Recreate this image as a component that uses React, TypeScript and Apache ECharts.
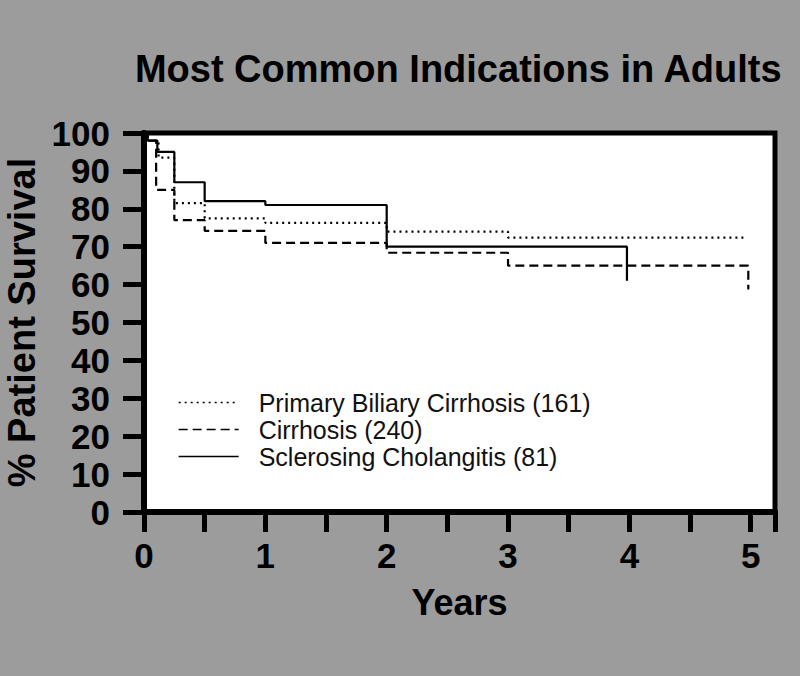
import React, { useEffect, useRef } from "react";
import * as echarts from "echarts";

const titleText = "Most Common Indications in Adults";
const seriesNames = [
  "Primary Biliary Cirrhosis (161)",
  "Cirrhosis (240)",
  "Sclerosing Cholangitis (81)",
];
// Kaplan-Meier step points [years, % survival]
const pbcTimes = [0, 0.03, 0.12, 0.25, 0.5, 1.0, 2.0, 3.0, 4.96];
const pbcValues = [100, 98, 93.5, 81.5, 77.5, 76.3, 74.0, 72.4, 72.4];
const cirrTimes = [0, 0.03, 0.1, 0.25, 0.5, 1.0, 2.0, 3.0, 4.98];
const cirrValues = [100, 98, 85, 77, 74.2, 71, 68.4, 65, 58.7];
const scTimes = [0, 0.03, 0.11, 0.25, 0.5, 1.0, 2.0, 3.98];
const scValues = [100, 98, 95, 87, 82, 81, 70, 61];
const xTickLabels = ["0", "1", "2", "3", "4", "5"];

const zip = (t: number[], v: number[]) => t.map((x, i) => [x, v[i]]);

export default function App() {
  const ref = useRef<HTMLDivElement>(null);
  useEffect(() => {
    if (!ref.current) return;
    const chart = echarts.init(ref.current, null, { renderer: "svg" });
    const font = "'Liberation Sans', Arial, Helvetica, sans-serif";
    const lineBase = { color: "#000", width: 2.2 };
    chart.setOption({
      animation: false,
      backgroundColor: "#9c9c9c",
      textStyle: { fontFamily: font },
      title: {
        text: titleText,
        right: 12,
        top: 45,
        textStyle: {
          fontFamily: font,
          fontSize: 38,
          fontWeight: 900,
          color: "#000",
        },
      },
      legend: {
        orient: "vertical",
        left: 173,
        top: 385,
        itemWidth: 60,
        itemHeight: 14,
        itemGap: 2,
        data: seriesNames,
        itemStyle: { opacity: 0 },
        lineStyle: { width: 1.3 },
        textStyle: {
          fontFamily: font,
          fontSize: 25,
          color: "#111",
          padding: [0, 0, 0, 15],
          lineHeight: 25,
        },
      },
      grid: {
        left: 144,
        top: 133,
        width: 631,
        height: 379,
        containLabel: false,
        outerBoundsMode: "none",
        show: true,
        backgroundColor: "#fff",
        borderColor: "#000",
        borderWidth: 5,
      },
      xAxis: {
        type: "value",
        min: 0,
        max: 5.2,
        interval: 0.5,
        name: "Years",
        nameLocation: "middle",
        nameGap: 72,
        nameTextStyle: { fontSize: 36, fontWeight: 900, color: "#000", fontFamily: font },
        axisLine: { show: true, lineStyle: { color: "#000", width: 6 } },
        axisTick: { show: true, length: 20, lineStyle: { color: "#000", width: 5 } },
        splitLine: { show: false },
        axisLabel: {
          margin: 26,
          fontSize: 35,
          fontWeight: "bold",
          color: "#000",
          fontFamily: font,
          formatter: (v: number) => {
            const i = Math.round(v);
            return Math.abs(v - i) < 1e-6 && i < xTickLabels.length ? xTickLabels[i] : "";
          },
        },
      },
      yAxis: {
        type: "value",
        min: 0,
        max: 100,
        interval: 10,
        name: "% Patient Survival",
        nameLocation: "middle",
        nameGap: 96,
        nameRotate: 90,
        nameTextStyle: { fontSize: 38, fontWeight: 900, color: "#000", fontFamily: font },
        axisLine: { show: true, lineStyle: { color: "#000", width: 6 } },
        axisTick: { show: true, length: 21, lineStyle: { color: "#000", width: 5 } },
        splitLine: { show: false },
        axisLabel: {
          margin: 34,
          fontSize: 35,
          fontWeight: "bold",
          color: "#000",
          fontFamily: font,
          verticalAlign: "middle",
          padding: [0, 0, 20, 0],
        },
      },
      series: [
        {
          name: seriesNames[0],
          type: "line",
          step: "end",
          symbol: "none",
          data: zip(pbcTimes, pbcValues),
          lineStyle: { ...lineBase, type: [2, 4] },
        },
        {
          name: seriesNames[1],
          type: "line",
          step: "end",
          symbol: "none",
          data: zip(cirrTimes, cirrValues),
          lineStyle: { ...lineBase, type: [9, 5] },
        },
        {
          name: seriesNames[2],
          type: "line",
          step: "end",
          symbol: "none",
          data: zip(scTimes, scValues),
          lineStyle: { ...lineBase, type: "solid" },
        },
      ],
    });
    return () => chart.dispose();
  }, []);
  return (
    <div
      ref={ref}
      style={{ position: "fixed", left: 0, top: 0, width: 800, height: 676 }}
    />
  );
}
